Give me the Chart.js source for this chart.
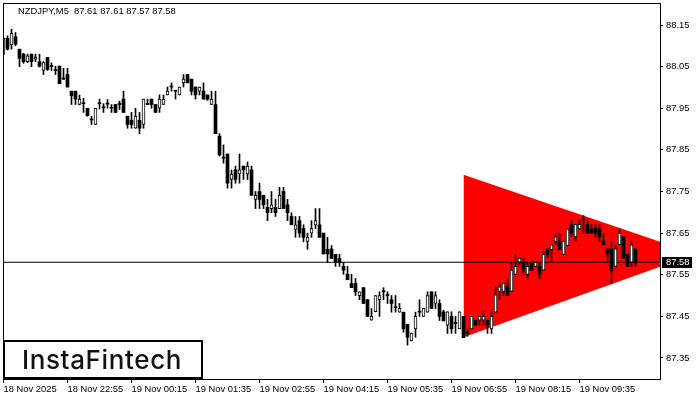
<!DOCTYPE html>
<html><head><meta charset="utf-8">
<script src="https://cdn.jsdelivr.net/npm/chart.js@4.4.1/dist/chart.umd.min.js"></script>
<style>html,body{margin:0;padding:0;background:#fff;}canvas{display:block;}</style>
</head><body>
<canvas id="c" width="700" height="400"></canvas>
<script>
const symbol = 'NZDJPY';
const timeframe = 'M5';
const openVals = [
88.080,88.118,88.102,88.122,88.092,88.080,88.062,88.080,88.068,88.062,
88.041,88.072,88.051,88.043,88.051,88.020,88.031,87.991,87.991,87.959,
87.962,87.950,87.922,87.911,87.961,87.951,87.960,87.950,87.959,87.959,
87.972,87.931,87.921,87.902,87.921,87.911,87.959,87.972,87.959,87.950,
87.959,87.982,88.001,87.991,87.982,88.011,88.031,88.020,88.001,87.991,
87.991,87.982,87.959,87.959,87.883,87.830,87.840,87.779,87.802,87.792,
87.811,87.792,87.802,87.731,87.750,87.741,87.712,87.709,87.712,87.709,
87.750,87.718,87.690,87.659,87.680,87.661,87.630,87.650,87.670,87.670,
87.650,87.611,87.612,87.599,87.589,87.570,87.551,87.529,87.529,87.500,
87.519,87.490,87.441,87.461,87.490,87.509,87.500,87.490,87.471,87.460,
87.460,87.431,87.391,87.420,87.460,87.450,87.460,87.509,87.481,87.481,
87.461,87.429,87.450,87.433,87.420,87.450,87.410,87.420,87.441,87.441,
87.441,87.441,87.420,87.460,87.510,87.510,87.521,87.510,87.551,87.580,
87.580,87.551,87.580,87.570,87.570,87.561,87.612,87.610,87.630,87.631,
87.599,87.620,87.671,87.641,87.660,87.682,87.671,87.660,87.662,87.660,
87.631,87.612,87.612,87.570,87.622,87.641,87.599,87.580,87.612];
const highVals = [
88.118,88.124,88.140,88.132,88.092,88.082,88.080,88.080,88.080,88.080,
88.062,88.072,88.059,88.051,88.052,88.046,88.046,87.991,87.991,87.982,
87.974,87.950,87.931,87.950,87.972,87.961,87.971,87.959,87.959,87.967,
87.991,87.931,87.940,87.950,87.940,87.972,87.972,87.972,87.959,87.982,
87.982,88.001,88.011,87.992,88.001,88.031,88.031,88.020,88.001,88.001,
88.011,87.982,87.991,87.991,87.889,87.862,87.840,87.802,87.811,87.840,
87.811,87.821,87.811,87.750,87.770,87.741,87.731,87.750,87.731,87.760,
87.760,87.731,87.699,87.690,87.690,87.670,87.650,87.680,87.709,87.709,
87.650,87.640,87.620,87.599,87.599,87.580,87.570,87.551,87.541,87.509,
87.519,87.490,87.469,87.500,87.509,87.519,87.509,87.500,87.500,87.481,
87.460,87.431,87.410,87.460,87.490,87.469,87.509,87.509,87.509,87.490,
87.465,87.461,87.461,87.450,87.461,87.450,87.420,87.450,87.441,87.450,
87.461,87.441,87.461,87.522,87.530,87.530,87.541,87.580,87.599,87.590,
87.590,87.580,87.580,87.580,87.580,87.605,87.612,87.622,87.650,87.650,
87.631,87.660,87.682,87.671,87.681,87.692,87.682,87.671,87.671,87.671,
87.650,87.612,87.631,87.622,87.660,87.641,87.599,87.631,87.612];
const lowVals = [
88.080,88.090,88.092,88.100,88.050,88.058,88.060,88.050,88.062,88.049,
88.031,88.041,88.041,88.031,88.009,88.019,88.001,87.959,87.959,87.958,
87.940,87.931,87.911,87.911,87.948,87.940,87.950,87.940,87.940,87.947,
87.940,87.902,87.902,87.902,87.889,87.902,87.959,87.950,87.940,87.940,
87.959,87.982,87.991,87.972,87.982,88.001,88.011,87.982,87.972,87.982,
87.972,87.969,87.959,87.889,87.835,87.818,87.758,87.758,87.770,87.770,
87.779,87.779,87.741,87.709,87.709,87.709,87.680,87.699,87.690,87.709,
87.709,87.680,87.670,87.640,87.640,87.629,87.611,87.640,87.661,87.640,
87.600,87.580,87.589,87.570,87.570,87.551,87.538,87.519,87.500,87.490,
87.481,87.450,87.441,87.461,87.450,87.490,87.481,87.460,87.460,87.460,
87.412,87.381,87.391,87.400,87.450,87.450,87.460,87.469,87.469,87.440,
87.439,87.409,87.409,87.409,87.420,87.399,87.402,87.420,87.429,87.429,
87.429,87.409,87.409,87.460,87.490,87.500,87.500,87.510,87.551,87.570,
87.551,87.541,87.561,87.570,87.541,87.561,87.590,87.580,87.622,87.610,
87.599,87.620,87.641,87.631,87.660,87.650,87.650,87.650,87.641,87.630,
87.622,87.580,87.529,87.570,87.622,87.590,87.570,87.570,87.570];
const closeVals = [
88.118,88.092,88.130,88.104,88.070,88.062,88.076,88.062,88.073,88.051,
88.060,88.043,88.050,88.040,88.009,88.021,88.001,87.980,87.972,87.972,
87.961,87.932,87.923,87.950,87.962,87.952,87.961,87.951,87.940,87.960,
87.940,87.911,87.911,87.931,87.902,87.972,87.960,87.959,87.940,87.972,
87.972,87.991,88.002,87.992,88.001,88.020,88.011,87.991,87.982,88.001,
87.972,87.972,87.972,87.889,87.838,87.831,87.770,87.792,87.779,87.802,
87.802,87.811,87.741,87.741,87.731,87.718,87.699,87.718,87.699,87.741,
87.709,87.699,87.670,87.670,87.650,87.640,87.640,87.661,87.680,87.640,
87.600,87.600,87.589,87.580,87.580,87.561,87.538,87.519,87.509,87.509,
87.481,87.450,87.450,87.500,87.500,87.510,87.501,87.481,87.472,87.469,
87.420,87.400,87.410,87.450,87.461,87.469,87.500,87.469,87.500,87.450,
87.439,87.461,87.420,87.434,87.461,87.399,87.411,87.450,87.429,87.450,
87.450,87.429,87.450,87.502,87.521,87.530,87.500,87.561,87.570,87.590,
87.561,87.570,87.561,87.580,87.551,87.599,87.599,87.622,87.641,87.610,
87.631,87.660,87.650,87.671,87.671,87.683,87.650,87.650,87.650,87.641,
87.622,87.601,87.561,87.612,87.650,87.590,87.570,87.622,87.580];
const xTickIdx = [0,16,32,48,64,80,96,112,128,144];
const xTickLabels = ['18 Nov 2025','18 Nov 22:55','19 Nov 00:15','19 Nov 01:35','19 Nov 02:55','19 Nov 04:15','19 Nov 05:35','19 Nov 06:55','19 Nov 08:15','19 Nov 09:35'];
const yTickValues = [87.35,87.45,87.55,87.65,87.75,87.85,87.95,88.05,88.15];
const yTickLabels = ['87.35','87.45','87.55','87.65','87.75','87.85','87.95','88.05','88.15'];
const triangleX = [115, 173];
const triangleUpper = [87.79, 87.60];
const triangleLower = [87.40, 87.60];
const currentPrice = 87.58;
const logoText = 'InstaFintech';

const FONT = "'Liberation Sans', Arial, sans-serif";
const FS = 9.4;
Chart.defaults.font.family = FONT;
Chart.defaults.font.size = FS;
Chart.defaults.color = '#000';

const idx = openVals.map((_, i) => i);
const isBull = i => closeVals[i] - openVals[i] > 0.003;

const overlay = {
  id: 'overlay',
  afterDraw(chart) {
    const {ctx, chartArea: a} = chart;
    const y = chart.scales.y;
    ctx.save();
    ctx.strokeStyle = '#000';
    ctx.lineWidth = 1;
    ctx.strokeRect(a.left + 0.5, a.top + 0.5, a.right - a.left, a.bottom - a.top);
    const n = closeVals.length - 1;
    ctx.font = FS + 'px ' + FONT;
    ctx.fillStyle = '#000';
    ctx.textAlign = 'left';
    ctx.textBaseline = 'alphabetic';
    const hdr = symbol + ',' + timeframe + '  ' + [openVals[n], highVals[n], lowVals[n], closeVals[n]].map(v => v.toFixed(2)).join(' ');
    ctx.fillText(hdr, 18, 14);
    const py = Math.round(y.getPixelForValue(currentPrice));
    ctx.fillStyle = '#000';
    ctx.fillRect(a.right + 2, py - 5, 30, 11);
    ctx.fillStyle = '#fff';
    ctx.textBaseline = 'middle';
    ctx.fillText(currentPrice.toFixed(2), a.right + 6, py + 0.5);
    ctx.fillStyle = '#fff';
    ctx.fillRect(3, 340, 200, 39);
    ctx.lineWidth = 2;
    ctx.strokeStyle = '#000';
    ctx.strokeRect(4, 341, 198, 37);
    ctx.font = "500 26px Inter, Roboto, sans-serif";
    ctx.fillStyle = '#111';
    ctx.textBaseline = 'alphabetic';
    const w = ctx.measureText(logoText).width;
    if ('letterSpacing' in ctx && w < 160) ctx.letterSpacing = ((160 - w) / logoText.length).toFixed(2) + 'px';
    ctx.fillText(logoText, 22, 369);
    ctx.restore();
  }
};

new Chart(document.getElementById('c'), {
  type: 'bar',
  data: {
    datasets: [
      { type: 'bar', label: 'body', data: idx.map(i => ({x: i, y: [openVals[i], closeVals[i]]})),
        grouped: false, barPercentage: 1, categoryPercentage: 1, maxBarThickness: 3, minBarLength: 1,
        backgroundColor: c => isBull(c.dataIndex) ? '#fff' : '#000', borderColor: '#000',
        borderWidth: c => isBull(c.dataIndex) ? 1 : 0, borderSkipped: false, order: 1 },
      { type: 'bar', label: 'wick', data: idx.map(i => ({x: i, y: [lowVals[i], highVals[i]]})),
        grouped: false, barPercentage: 1, categoryPercentage: 1, maxBarThickness: 1, minBarLength: 1,
        backgroundColor: '#000', borderWidth: 0, order: 2 },
      { type: 'line', label: 'price', data: [{x: -0.125, y: currentPrice}, {x: 164.125, y: currentPrice}],
        borderColor: '#000', borderWidth: 1, pointRadius: 0, fill: false, order: 3 },
      { type: 'line', label: 'triUpper', data: triangleX.map((x, k) => ({x, y: triangleUpper[k]})),
        borderWidth: 0, borderColor: 'rgba(0,0,0,0)', pointRadius: 0, fill: false, order: 5 },
      { type: 'line', label: 'triLower', data: triangleX.map((x, k) => ({x, y: triangleLower[k]})),
        borderWidth: 0, borderColor: 'rgba(0,0,0,0)', pointRadius: 0, fill: '-1', backgroundColor: '#ff0000', order: 4 }
    ]
  },
  options: {
    responsive: false,
    animation: false,
    devicePixelRatio: 1,
    events: [],
    layout: {padding: {left: 3, top: 3, right: 0, bottom: 0}},
    plugins: {legend: {display: false}, tooltip: {enabled: false}},
    scales: {
      x: {
        type: 'linear', min: -0.125, max: 164.125, offset: false, position: 'bottom',
        grid: {display: true, offset: false, drawOnChartArea: false, drawTicks: true, tickLength: 4, color: '#000', tickColor: '#000'},
        border: {display: false},
        ticks: {autoSkip: false, maxRotation: 0, minRotation: 0, align: 'start', padding: 1, color: '#000',
          callback: (v, i) => xTickLabels[i]},
        afterBuildTicks: s => { s.ticks = xTickIdx.map(v => ({value: v})); },
        afterFit: s => { s.height = 21; s.paddingLeft = 0; s.paddingRight = 0; }
      },
      y: {
        type: 'linear', position: 'right', min: 87.2995, max: 88.2029, beginAtZero: false,
        grid: {display: true, offset: false, drawOnChartArea: false, drawTicks: true, tickLength: 3, color: '#000', tickColor: '#000'},
        border: {display: false},
        ticks: {autoSkip: false, padding: 3, color: '#000', callback: (v, i) => yTickLabels[i]},
        afterBuildTicks: s => { s.ticks = yTickValues.map(v => ({value: v})); },
        afterFit: s => { s.width = 40; s.paddingTop = 0; s.paddingBottom = 0; }
      }
    }
  },
  plugins: [overlay]
});
</script>
</body></html>
